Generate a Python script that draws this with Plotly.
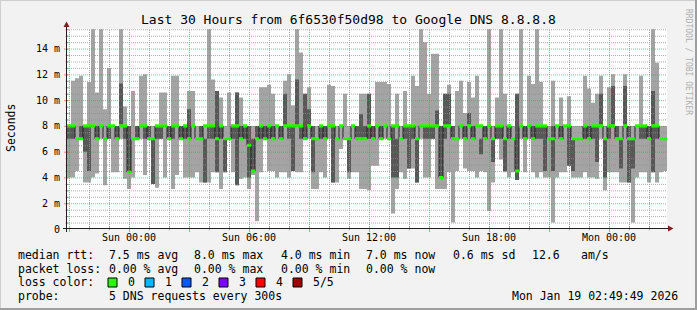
import plotly.graph_objects as go

# ---------------- data (milliseconds), 150 bins of 12 minutes ----------------
start_hour = -3.1      # hours relative to Sun 00:00
bin_hours = 0.2

ping_min = [
    4.0, 4.0, 4.5, 7.0, 3.6, 3.6, 4.0, 4.3, 7.0, 3.4, 7.0, 4.4, 4.4, 7.0, 3.9, 3.1, 4.0, 7.0, 7.0, 4.2, 7.0, 4.2, 3.2, 7.0, 4.0,
    7.0, 3.1, 4.2, 7.0, 4.0, 4.0, 4.0, 4.4, 3.6, 3.6, 3.6, 4.4, 4.4, 3.1, 4.4, 7.0, 4.4, 3.4, 3.9, 4.0, 3.1, 4.2, 0.6, 4.4, 7.0,
    4.5, 4.5, 4.0, 4.4, 4.4, 4.0, 4.5, 4.4, 4.4, 7.0, 7.0, 3.1, 3.1, 4.4, 4.0, 7.0, 3.6, 3.6, 6.2, 7.0, 3.9, 4.4, 4.4, 3.1, 3.1,
    3.0, 4.9, 4.9, 7.0, 7.0, 7.0, 1.2, 3.1, 4.4, 3.9, 4.7, 4.7, 3.6, 7.0, 4.0, 4.0, 7.0, 3.1, 3.1, 3.1, 4.4, 0.5, 4.5, 7.0, 4.7,
    4.5, 4.5, 4.0, 4.5, 4.4, 1.4, 3.6, 7.0, 5.4, 4.4, 4.0, 4.4, 3.8, 7.0, 4.4, 7.0, 4.4, 4.0, 4.4, 4.0, 4.0, 0.5, 4.0, 4.4, 4.4,
    4.9, 4.0, 4.0, 4.0, 4.4, 4.0, 4.0, 3.9, 7.0, 3.0, 4.4, 4.4, 4.4, 3.6, 3.6, 3.6, 0.5, 4.0, 4.4, 4.4, 3.6, 4.4, 3.6, 4.4, 4.5,
]
ping_max = [
    8.0, 11.5, 11.7, 11.9, 8.0, 11.4, 15.5, 10.6, 15.5, 9.3, 12.5, 8.0, 8.0, 15.5, 9.5, 8.0, 10.7, 8.0, 11.9, 12.0, 8.0, 8.0, 8.0, 10.6, 10.6,
    8.0, 11.9, 11.9, 8.0, 8.0, 10.7, 10.7, 8.0, 8.0, 8.0, 15.5, 11.6, 10.7, 10.2, 8.0, 10.6, 8.0, 10.6, 10.2, 8.0, 8.0, 8.0, 8.0, 11.0, 11.0,
    11.2, 10.5, 8.0, 8.0, 11.5, 12.0, 9.6, 15.5, 13.7, 10.5, 11.0, 8.0, 8.0, 8.0, 8.0, 11.2, 11.1, 8.0, 8.0, 10.5, 8.0, 8.0, 8.0, 10.5, 10.5,
    10.5, 8.0, 11.4, 11.4, 11.4, 11.25, 8.0, 10.5, 8.0, 10.7, 8.0, 11.9, 11.1, 15.5, 14.5, 10.5, 13.6, 13.6, 8.0, 10.5, 11.2, 8.0, 10.7, 11.5, 9.0,
    11.4, 10.2, 11.9, 8.0, 8.0, 15.5, 8.0, 10.2, 15.5, 10.5, 8.0, 8.0, 10.5, 15.5, 8.0, 11.9, 11.25, 15.5, 11.4, 8.0, 8.0, 11.5, 8.0, 10.2, 8.0,
    10.3, 8.0, 8.0, 8.0, 11.9, 10.9, 9.8, 10.5, 11.9, 8.0, 11.0, 12.0, 8.0, 8.0, 12.0, 8.0, 8.0, 8.0, 11.9, 8.0, 8.0, 15.5, 12.9, 8.0, 8.0,
]
inner_lo = [
    7, 7, 7, 7, 6, 4.5, 8, 7, 8, 7, 7, 8, 7, 8, 7, 4.4, 7, 7, 8, 7, 7, 3.5, 7, 7, 8,
    7, 7, 8, 7, 7, 7, 8, 7, 7, 3.6, 7, 7, 4.4, 7, 4.4, 7, 7, 3.4, 7, 7, 4.0, 4.4, 7, 7, 7,
    7, 7, 8, 7, 8, 7, 4.5, 8, 7, 7, 8, 4.4, 7, 7, 7, 8, 3.6, 7, 8, 7, 4.4, 8, 7, 7, 7,
    7, 7, 8, 7, 8, 7, 4.0, 4.0, 7, 7, 4.7, 7, 3.6, 8, 7, 7, 7, 8, 3.9, 7, 8, 7, 7, 8, 7,
    8, 7, 8, 5.8, 7, 8, 5.2, 7, 7, 4.5, 7, 7, 3.8, 8, 7, 8, 7, 7, 7, 4.5, 7, 4.5, 8, 7, 8,
    4.9, 4.5, 7, 7, 7, 7, 7, 5.2, 8, 4.0, 7, 8, 7, 4.7, 8, 3.6, 4.7, 8, 7, 7, 7, 4.4, 7, 7, 7,
]
inner_hi = [
    8, 8, 7, 8, 8, 8, 8, 8, 8, 7, 8, 8, 8, 11.3, 8, 8, 7, 8, 8, 8, 8, 7, 8, 8, 8,
    8, 8, 8, 8, 8, 9.3, 8, 7, 8, 7, 8, 8, 10.7, 8, 7, 7, 8, 10.6, 8, 8, 8, 7, 8, 8, 8,
    8, 8, 8, 8, 10.5, 8, 8, 11.6, 8, 10.5, 9.3, 8, 7, 8, 8, 8, 8, 7, 8, 7, 7, 8, 8, 8.9, 8,
    10.5, 8, 8, 8, 8, 7, 8, 7, 7, 8, 8, 8, 7, 8, 8, 8, 8, 9.2, 8, 10.5, 10.5, 8, 7, 8, 8,
    9, 8, 8, 7, 8, 8, 7, 8, 8, 7, 8, 7, 10.5, 8, 8, 8, 8, 8, 8, 8, 7, 8, 8, 8, 8,
    8, 7, 7, 7, 8, 8, 8, 8, 10.5, 7, 8, 11.1, 8, 7, 11.1, 8, 7, 8, 8, 8, 8, 10.7, 8, 7, 7,
]
median = [
    8, 8, 7, 7, 8, 8, 8, 7, 8, 7, 8, 8, 7, 8, 8, 4.4, 7, 7, 8, 8, 7, 7, 8, 8, 8,
    7, 8, 8, 7, 8, 7, 8, 7, 7, 8, 8, 8, 7, 8, 7, 7, 8, 8, 7, 8, 6.5, 4.5, 7, 8, 7,
    8, 7, 8, 7, 8, 8, 8, 8, 8, 7, 8, 7, 7, 8, 7, 8, 8, 7, 8, 7, 7, 8, 7, 7, 7,
    8, 7, 8, 7, 8, 7, 8, 8, 7, 8, 8, 8, 7, 8, 8, 8, 8, 8, 4.0, 8, 8, 7, 7, 8, 7,
    8, 7, 8, 8, 7, 8, 7, 8, 8, 7, 8, 7, 4.5, 8, 7, 8, 7, 8, 8, 8, 7, 7, 8, 7, 8,
    8, 7, 7, 7, 8, 7, 8, 8, 8, 7, 8, 8, 7, 7, 8, 7, 7, 8, 8, 8, 7, 8, 8, 7, 7,
]

x_tick_hours = [-3, 0, 3, 6, 9, 12, 15, 18, 21, 24]
x_tick_labels = ["", "Sun 00:00", "", "Sun 06:00", "", "Sun 12:00", "", "Sun 18:00", "", "Mon 00:00"]
y_ticks = [0, 2, 4, 6, 8, 10, 12, 14]
y_tick_labels = ["0", "2 m", "4 m", "6 m", "8 m", "10 m", "12 m", "14 m"]

legend_rows = [
    ["median rtt:", "7.5 ms avg", "8.0 ms max", "4.0 ms min", "7.0 ms now", "0.6 ms sd", "12.6", "am/s"],
    ["packet loss:", "0.00 % avg", "0.00 % max", "0.00 % min", "0.00 % now"],
]
loss_labels = ["0", "1", "2", "3", "4", "5/5"]
loss_colors = ["#26ff00", "#00b8ff", "#0059ff", "#7e00ff", "#ff0000", "#a00000"]

# ---------------- figure ----------------
W, H = 697, 310
PL, PR, PT, PB = 67, 667, 29, 229     # plot area in pixels
MONO = "DejaVu Sans Mono"
Y_MAX = 15.52


def px(xp):
    return (xp - PL) / (PR - PL)


def py(yp):
    return (PB - yp) / (PB - PT)


n = len(median)
xs = [start_hour + bin_hours * i for i in range(n + 1)]
x_end = start_hour + bin_hours * n


def ext(a):
    return list(a) + [a[-1]]


band = 0.12
fig = go.Figure()


def band_pair(lo, hi, color):
    fig.add_trace(go.Scatter(x=xs, y=ext(lo), mode="lines", line=dict(width=0, shape="hv"),
                             hoverinfo="skip", showlegend=False))
    fig.add_trace(go.Scatter(x=xs, y=ext(hi), mode="lines", line=dict(width=0, shape="hv"),
                             fill="tonexty", fillcolor=color, hoverinfo="skip", showlegend=False))


band_pair(ping_min, ping_max, "#a4a4a4")
band_pair(inner_lo, inner_hi, "#585858")
fig.add_trace(go.Scatter(x=xs, y=ext(median), mode="lines",
                         line=dict(width=1, color="#202020", shape="hv"),
                         hoverinfo="skip", showlegend=False))
band_pair([m - band for m in median], [m + band for m in median], "#26ff00")

major_grid = "rgba(222,79,79,0.6)"
minor_grid = "rgba(143,143,143,0.75)"

fig.update_layout(
    width=W, height=H, autosize=False,
    margin=dict(l=PL, r=W - PR, t=PT, b=H - PB, pad=0),
    paper_bgcolor="#f2f2f2", plot_bgcolor="#ffffff",
    showlegend=False,
    font=dict(family=MONO, color="#000000"),
    xaxis=dict(
        range=[start_hour, x_end],
        tickmode="array", tickvals=x_tick_hours, ticktext=x_tick_labels,
        showgrid=False, zeroline=False, showline=False, ticks="",
        tickfont=dict(family=MONO, size=10, color="#000000"),
        ticklabelstandoff=1,
    ),
    yaxis=dict(
        range=[0, Y_MAX],
        tickmode="array", tickvals=y_ticks, ticktext=y_tick_labels,
        showgrid=False, zeroline=False, showline=False, ticks="",
        tickfont=dict(family=MONO, size=10, color="#000000"),
        ticklabelstandoff=6,
    ),
)

shapes = []
# grid drawn on top of the smoke (as rrdtool does)
hpx = (PR - PL) / (x_end - start_hour)          # pixels per hour
for hr in range(-3, 27):
    major = hr % 3 == 0
    col = major_grid if major else minor_grid
    xx = hr + 0.5 / hpx
    shapes.append(dict(type="line", xref="x", yref="paper", x0=xx, x1=xx, y0=0, y1=1,
                       line=dict(color=col, width=1, dash="1px,1px")))
    # small tick across the time axis
    shapes.append(dict(type="line", xref="x", yref="paper", x0=xx, x1=xx,
                       y0=py(PB + (3 if major else 1.5)), y1=py(PB - 2),
                       line=dict(color=col, width=1)))
vpx = (PB - PT) / Y_MAX
for k in range(1, 32):
    v = 0.5 * k
    if v > Y_MAX:
        break
    major = k % 4 == 0
    col = major_grid if major else minor_grid
    yy = v - 0.5 / vpx
    shapes.append(dict(type="line", xref="paper", yref="y", x0=0, x1=1, y0=yy, y1=yy,
                       line=dict(color=col, width=1, dash="1px,1px")))
    shapes.append(dict(type="line", xref="paper", yref="y", x0=px(PL - (3 if major else 1.5)), x1=px(PL + 2),
                       y0=yy, y1=yy, line=dict(color=col, width=1)))
# axes
shapes.append(dict(type="line", xref="paper", yref="paper", x0=px(63), x1=px(669), y0=py(PB - 0.5), y1=py(PB - 0.5),
                   line=dict(color="#1f1f1f", width=1)))
shapes.append(dict(type="line", xref="paper", yref="paper", x0=px(PL - 0.5), x1=px(PL - 0.5), y0=py(232), y1=py(25),
                   line=dict(color="#1f1f1f", width=1)))
# arrows
shapes.append(dict(type="path", xref="paper", yref="paper",
                   path=f"M {px(673.5)} {py(PB-0.5)} L {px(668)} {py(PB-3.5)} L {px(668)} {py(PB+2.5)} Z",
                   fillcolor="#801f1f", line=dict(width=0)))
shapes.append(dict(type="path", xref="paper", yref="paper",
                   path=f"M {px(PL-0.5)} {py(21.5)} L {px(PL-3.5)} {py(27)} L {px(PL+2.5)} {py(27)} Z",
                   fillcolor="#801f1f", line=dict(width=0)))
# frame
shapes.append(dict(type="line", xref="paper", yref="paper", x0=px(0), x1=px(W), y0=py(0.5), y1=py(0.5),
                   line=dict(color="#cfcfcf", width=1)))
shapes.append(dict(type="line", xref="paper", yref="paper", x0=px(0.5), x1=px(0.5), y0=py(0), y1=py(H),
                   line=dict(color="#cfcfcf", width=1)))
shapes.append(dict(type="line", xref="paper", yref="paper", x0=px(0), x1=px(W), y0=py(H - 1), y1=py(H - 1),
                   line=dict(color="#9e9e9e", width=2)))
shapes.append(dict(type="line", xref="paper", yref="paper", x0=px(W - 1), x1=px(W - 1), y0=py(0), y1=py(H),
                   line=dict(color="#9e9e9e", width=2)))
# loss colour boxes
for i, c in enumerate(loss_colors):
    x0 = 108 + 37 * i
    shapes.append(dict(type="rect", xref="paper", yref="paper", x0=px(x0), x1=px(x0 + 9),
                       y0=py(278), y1=py(287), fillcolor=c, line=dict(color="#000000", width=1)))
fig.update_layout(shapes=shapes)

ann = []


def text(s, x, y, size=11.5, anchor="left", angle=0, color="#000000"):
    ann.append(dict(text=s, xref="paper", yref="paper", x=px(x), y=py(y), showarrow=False,
                    xanchor=anchor, yanchor="middle", textangle=angle,
                    font=dict(family=MONO, size=size, color=color)))


text("Last 30 Hours from 6f6530f50d98 to Google DNS 8.8.8.8", 348.5, 19.3, size=13, anchor="center")
text("Seconds", 11, 128, size=11.5, anchor="center", angle=-90)
text("RRDTOOL / TOBI OETIKER", 689, 62, size=8, anchor="center", angle=90, color="#b0b0b0")

row_x = [16, 107, 192, 279, 364, 451, 530, 579]
row_y = [254.8, 268.5]
for r, row in enumerate(legend_rows):
    for j, s in enumerate(row):
        text(s, row_x[j], row_y[r])
text("loss color:", 16, 282.3)
for i, s in enumerate(loss_labels):
    text(s, 126 + 37 * i, 282.3)
text("probe:", 16, 296)
text("5 DNS requests every 300s", 107, 296)
text("Mon Jan 19 02:49:49 2026", 680, 296, anchor="right")
fig.update_layout(annotations=ann)

fig.write_html("out.html")
